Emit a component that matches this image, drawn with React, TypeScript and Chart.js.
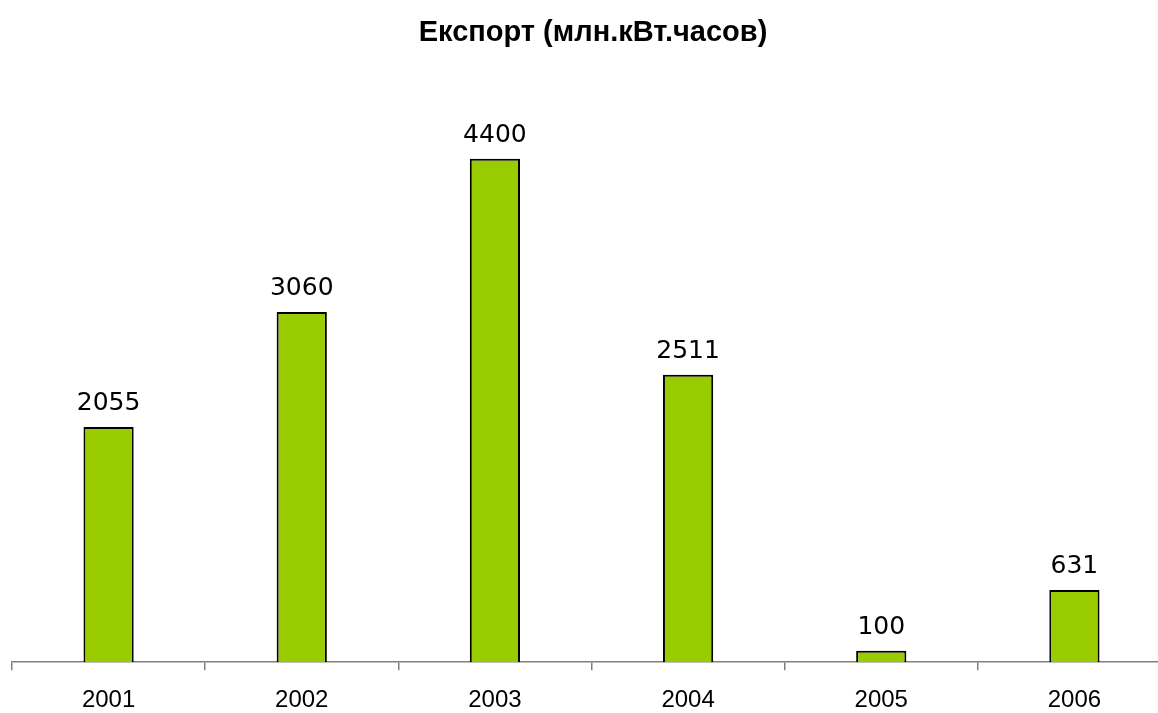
import React, { useEffect, useRef } from "react";
import { Chart, registerables } from "chart.js";

Chart.register(...registerables);

const titleText = "Експорт (млн.кВт.часов)";
const categories = ["2001", "2002", "2003", "2004", "2005", "2006"];
const exportValues = [2055, 3060, 4400, 2511, 100, 631];

const labelPlugin = {
  id: "barLabels",
  afterDatasetsDraw(chart: any) {
    const ctx = chart.ctx;
    const meta = chart.getDatasetMeta(0);
    ctx.save();
    ctx.font = "25px 'DejaVu Sans'";
    ctx.fillStyle = "#000";
    ctx.textAlign = "center";
    ctx.textBaseline = "alphabetic";
    meta.data.forEach((el: any, i: number) => {
      ctx.fillText(String(exportValues[i]), el.x, el.y - 17);
    });
    ctx.restore();
  },
};

const titlePlugin = {
  id: "topTitle",
  afterDraw(chart: any) {
    const ctx = chart.ctx;
    ctx.save();
    ctx.font = "bold 29px 'Liberation Sans', Arial";
    ctx.fillStyle = "#000";
    ctx.textAlign = "center";
    ctx.textBaseline = "alphabetic";
    ctx.fillText(titleText, 593, 41);
    ctx.restore();
  },
};

export default function App() {
  const ref = useRef<HTMLCanvasElement>(null);
  useEffect(() => {
    if (!ref.current) return;
    const chart = new Chart(ref.current, {
      type: "bar",
      data: {
        labels: categories,
        datasets: [
          {
            data: exportValues,
            backgroundColor: "#99CC00",
            borderColor: "#000000",
            borderWidth: 2,
            barPercentage: 0.26,
            categoryPercentage: 1,
          },
        ],
      },
      plugins: [labelPlugin, titlePlugin],
      options: {
        responsive: false,
        animation: false,
        layout: { padding: { left: 12, right: 0, top: 90, bottom: 0 } },
        plugins: {
          legend: { display: false },
          title: { display: false },
          tooltip: { enabled: false },
        },
        scales: {
          y: { display: false, min: 0, max: 5000 },
          x: {
            offset: true,
            grid: {
              offset: true,
              drawOnChartArea: false,
              tickLength: 8,
              color: "#808080",
              lineWidth: 1.5,
            },
            border: { display: true, color: "#808080", width: 1.5 },
            ticks: {
              color: "#000",
              font: { family: "'Liberation Sans', Arial", size: 24 },
              padding: 16,
            },
          },
        },
      },
    });
    return () => chart.destroy();
  }, []);
  return (
    <div style={{ position: "absolute", left: 0, top: 0, width: 1158, height: 713, overflow: "hidden", background: "#fff" }}>
      <canvas ref={ref} width={1171} height={731} style={{ display: "block" }} />
    </div>
  );
}
